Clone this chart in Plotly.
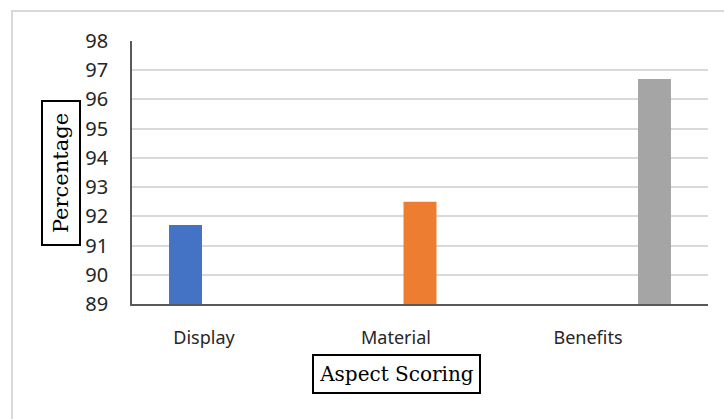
import plotly.graph_objects as go

categories = ["Display", "Material", "Benefits"]
values = [91.7, 92.5, 96.7]
colors = ["#4472C4", "#ED7D31", "#A5A5A5"]
y_ticks = list(range(89, 99))

fig = go.Figure()
for i, (cat, val, col) in enumerate(zip(categories, values, colors)):
    fig.add_trace(go.Bar(x=[cat], y=[val], name=cat, offsetgroup=str(i),
                         marker=dict(color=col, line=dict(width=0)),
                         showlegend=False))

fig.update_layout(
    width=724, height=419,
    margin=dict(l=132, r=16, t=41, b=115),
    paper_bgcolor="white", plot_bgcolor="white",
    barmode="group", bargap=0.336, bargroupgap=0.224,
    font=dict(family="Noto Sans", color="#262626"),
)
fig.update_xaxes(
    type="category", categoryorder="array", categoryarray=categories,
    showline=True, linecolor="#595959", linewidth=1.5, mirror=False,
    showgrid=False, ticks="", tickfont=dict(family="Noto Sans", size=18, color="#262626"),
    ticklabelstandoff=17, ticklabelshift=-24,
)
fig.update_yaxes(
    range=[89, 98], tickvals=y_ticks, ticktext=[str(v) for v in y_ticks],
    showline=True, linecolor="#595959", linewidth=1.5,
    showgrid=True, gridcolor="#d9d9d9", gridwidth=2, zeroline=False,
    ticks="", tickfont=dict(family="Noto Sans", size=20, color="#262626"),
    ticklabelstandoff=18,
)

fig.add_annotation(text="Percentage", xref="paper", yref="paper",
                   x=(61 - 132) / 576, y=(304 - 173) / 263, xanchor="center", yanchor="middle",
                   textangle=-90, showarrow=False,
                   font=dict(family="DejaVu Serif", size=21, color="black"),
                   bordercolor="black", borderwidth=2, borderpad=0, width=142, height=36)
fig.add_annotation(text="Aspect Scoring", xref="paper", yref="paper",
                   x=(396 - 132) / 576, y=(304 - 374) / 263, xanchor="center", yanchor="middle",
                   showarrow=False,
                   font=dict(family="DejaVu Serif", size=20, color="black"),
                   bordercolor="black", borderwidth=2, borderpad=0, width=165, height=36)

fig.add_shape(type="rect", xref="paper", yref="paper",
              x0=(12 - 132) / 576, x1=(740 - 132) / 576,
              y0=(304 - 440) / 263, y1=(304 - 11) / 263,
              line=dict(color="#d9d9d9", width=2), fillcolor="rgba(0,0,0,0)", layer="below")

fig.write_html("out.html")
